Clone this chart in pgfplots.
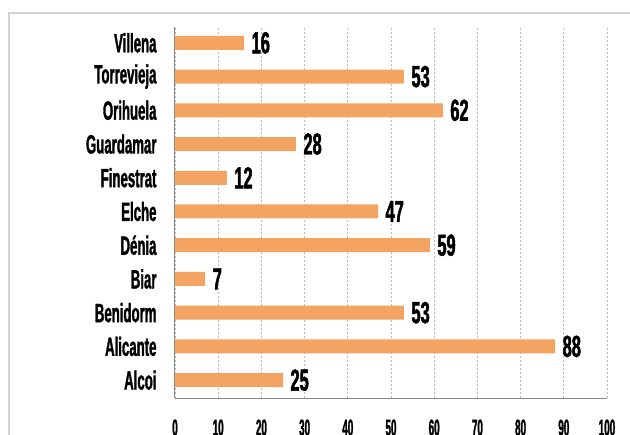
\documentclass[border=0pt]{standalone}
\usepackage{fontspec}
\usepackage{pgfplots}
\pgfplotsset{compat=1.18}
\newfontfamily\cond[FakeStretch=0.5, FakeBold=1.2]{Liberation Sans Bold}
\newfontfamily\condnum[FakeStretch=0.54, FakeBold=1.5]{Liberation Sans Bold}
\newfontfamily\condtick[FakeStretch=0.43, FakeBold=1.2]{Liberation Sans Bold}
\definecolor{barorange}{RGB}{244,164,98}
\definecolor{gridgray}{RGB}{185,185,185}
\definecolor{axgray}{RGB}{135,135,135}
\definecolor{framegray}{RGB}{210,210,210}

\begin{document}
\begin{tikzpicture}
\useasboundingbox (-175bp,-37bp) rectangle (455bp,398bp);
% outer chart frame
\draw[framegray, line width=1.2bp] (-166bp,-60bp) -- (-166bp,385bp) -- (480bp,385bp);

\begin{axis}[
  scale only axis,
  width=432bp, height=371bp,
  xbar, bar width=14bp,
  xmin=0, xmax=100,
  ymin=-0.53, ymax=10.47,
  xtick={0,10,...,100},
  ytick={0,...,10},
  yticklabels={Alcoi,Alicante,Benidorm,Biar,Dénia,Elche,Finestrat,Guardamar,Orihuela,Torrevieja,Villena},
  axis x line*=bottom,
  axis y line*=left,
  axis line style={axgray, line width=1bp, -},
  xmajorgrids,
  major x grid style={gridgray, line width=0.9bp, dash pattern=on 2bp off 2bp},
  major tick length=0pt,
  xticklabel style={font=\condtick\fontsize{23}{23}\selectfont, anchor=north, yshift=-18bp},
  yticklabel style={font=\cond\fontsize{26.5}{26.5}\selectfont, anchor=east, xshift=-15bp},
  /pgf/number format/assume math mode=true,
  nodes near coords,
  nodes near coords style={font=\condnum\fontsize{30.5}{30.5}\selectfont, anchor=west, xshift=4bp},
  every node near coord/.append style={/pgf/number format/assume math mode=true},
]
\addplot[draw=none, fill=barorange] coordinates {
  (25,0) (88,1) (53,2) (7,3) (59,4) (47,5) (12,6) (28,7) (62,8) (53,9) (16,10)
};
\end{axis}
\end{tikzpicture}
\end{document}
